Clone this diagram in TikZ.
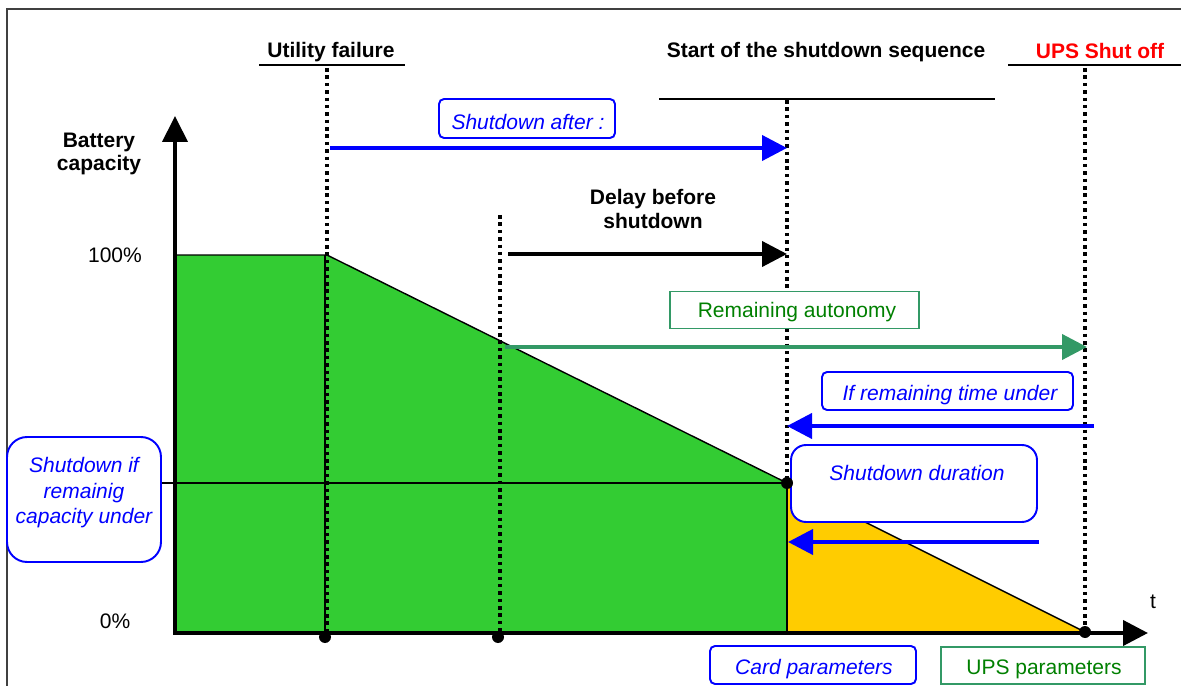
\documentclass[tikz,border=0pt]{standalone}
\usepackage{fontspec}
\setmainfont{Liberation Sans}
\usetikzlibrary{arrows.meta}
\definecolor{ublue}{HTML}{0000FF}
\definecolor{ugreen}{HTML}{33CC33}
\definecolor{uyellow}{HTML}{FFCC00}
\definecolor{useag}{HTML}{339966}
\definecolor{utgreen}{HTML}{008000}
\definecolor{ured}{HTML}{FF0000}
\begin{document}
\begin{tikzpicture}[x=0.02cm,y=-0.02cm,
  every node/.style={font=\fontsize{11.95}{14}\selectfont, inner sep=0pt},
  boldtxt/.style={font=\fontsize{11.95}{14}\selectfont\bfseries},
  bluetxt/.style={text=ublue, font=\fontsize{11.95}{14.5}\selectfont\itshape},
  greentxt/.style={text=utgreen},
  rbox/.style={draw=ublue, line width=1.1pt, rounded corners=0.1cm, fill=white},
  gbox/.style={draw=useag, line width=1.1pt, fill=white},
  dotline/.style={line width=2pt, dash pattern=on 2pt off 2.2pt},
  tip/.style={-{Triangle[length=0.5cm,width=0.5cm]}},
  barrow/.style={draw=ublue, line width=2.3pt, tip},
  karrow/.style={draw=black, line width=2.3pt, tip},
  garrow/.style={draw=useag, line width=2.3pt, tip},
  bdot/.style={fill=black}]
\useasboundingbox (0,0) rectangle (1181,686);
% frame
\draw[black!75, line width=0.9pt] (7,686) -- (7,9) -- (1181,9);
% areas
\fill[uyellow] (787,483) -- (1085,632) -- (787,632) -- cycle;
\fill[ugreen] (175,255) -- (327,255) -- (787,483) -- (787,632) -- (175,632) -- cycle;
\draw[line width=0.8pt] (175,255) -- (327,255) -- (787,483) -- (1085,632);
\draw[line width=0.8pt] (787,483) -- (787,632);
\draw[line width=0.8pt] (325,255) -- (325,632);
% coordinates
\coordinate (uftop) at (327,68);
\coordinate (ufbot) at (327,632);
\coordinate (dltop) at (500,215);
\coordinate (dlbot) at (500,632);
\coordinate (sstop) at (787,100);
\coordinate (sspt) at (787,483);
\coordinate (uptop) at (1085,68);
\coordinate (upbot) at (1085,632);
% threshold box and line
\node[rbox, rounded corners=0.4cm, minimum width=3.08cm, minimum height=2.5cm] (bcap) at (84,499.5) {};
\node[bluetxt, align=center] (tcap) at (84,493) {Shutdown if\\remainig\\capacity under};
\draw[line width=0.7pt] (bcap.east |- sspt) -- (sspt);
% dotted lines
\draw[dotline] (uftop) -- (ufbot);
\draw[dotline] (dltop) -- (dlbot);
\draw[dotline] (sstop) -- (sspt);
\draw[dotline] (uptop) -- (upbot);
% axes
\coordinate (orig) at (175,633);
\coordinate (ytip) at (175,116);
\coordinate (xtip) at (1148,633);
\draw[line width=2.3pt, line join=miter, {Triangle[length=0.52cm,width=0.5cm]}-{Triangle[length=0.5cm,width=0.5cm]}] (ytip) -- (orig) -- (xtip);
% top labels
\node[boldtxt] (tuf) at (331,52) {Utility failure};
\draw[line width=1.2pt] (259,65) -- (405,65);
\node[boldtxt] (tstart) at (826,52) {Start of the shutdown sequence};
\draw[line width=0.9pt] (659,99) -- (995,99);
\node[boldtxt, text=ured] (tups) at (1100,51) {UPS Shut off};
\draw[line width=1.2pt] (1008,65) -- (1181,65);
% axis labels
\node[boldtxt, align=center, font=\fontsize{11.95}{13}\selectfont\bfseries] (tbat) at (99,154) {Battery\\capacity};
\node (t100) at (115,255) {100\%};
\node (t0) at (115,621) {0\%};
\node (tt) at (1153,602) {t};
% shutdown after
\node[rbox, minimum width=3.52cm, minimum height=0.78cm] (bafter) at (527,118.5) {};
\node[bluetxt] (tafter) at (528,122) {Shutdown after :};
\coordinate (a1s) at (330,148);
\coordinate (a1e) at (787,148);
\draw[barrow] (a1s) -- (a1e);
% delay
\node[boldtxt, align=center, font=\fontsize{11.95}{14.2}\selectfont\bfseries] (tdelay) at (653,209) {Delay before\\shutdown};
\coordinate (a2s) at (508,254);
\coordinate (a2e) at (787,254);
\draw[karrow] (a2s) -- (a2e);
% remaining autonomy
\node[gbox, minimum width=4.98cm, minimum height=0.74cm] (bremain) at (794.5,310) {};
\node[greentxt] (tremain) at (797,312.5) {Remaining autonomy};
\coordinate (a3s) at (505,347);
\coordinate (a3e) at (1087,347);
\draw[garrow] (a3s) -- (a3e);
% if remaining time
\node[rbox, minimum width=5.02cm, minimum height=0.76cm] (bif) at (947.5,391) {};
\node[bluetxt] (tif) at (950,395) {If remaining time under};
\coordinate (a4s) at (1094,426);
\coordinate (a4e) at (787,426);
\draw[barrow] (a4s) -- (a4e);
% shutdown duration
\node[rbox, rounded corners=0.3cm, minimum width=4.92cm, minimum height=1.54cm] (bdur) at (914,483.5) {};
\node[bluetxt] (tdur) at (917,473) {Shutdown duration};
\coordinate (a5s) at (1039,542);
\coordinate (a5e) at (788,542);
\draw[barrow] (a5s) -- (a5e);
% dots
\fill[bdot] (325,637) circle[radius=0.12cm];
\fill[bdot] (498,637) circle[radius=0.12cm];
\fill[bdot] (sspt) circle[radius=0.12cm];
\fill[bdot] (upbot) circle[radius=0.12cm];
% bottom boxes
\node[rbox, minimum width=4.12cm, minimum height=0.76cm] (bcard) at (813,665) {};
\node[bluetxt] (tcard) at (814,669) {Card parameters};
\node[gbox, minimum width=4.08cm, minimum height=0.74cm] (bups) at (1043,665.5) {};
\node[greentxt] (tups2) at (1044,669) {UPS parameters};
\end{tikzpicture}
\end{document}
